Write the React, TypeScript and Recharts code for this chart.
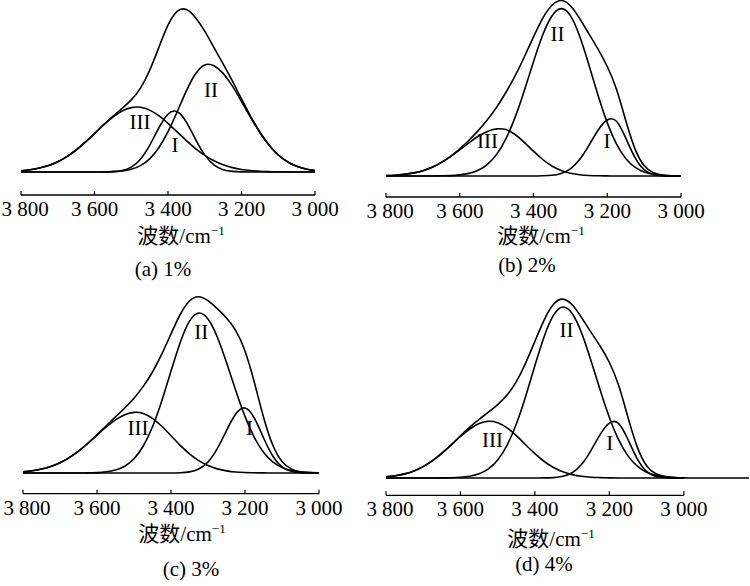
import { LineChart, Line, XAxis, YAxis, ReferenceLine, ReferenceDot } from "recharts";

// wavenumber grid (cm-1), high to low
const wavenumbers = [
  3800, 3775, 3750, 3725, 3700, 3675, 3650, 3625, 3600, 3575, 3550, 3525, 3500, 3475, 3450, 3425, 3400,
  3375, 3350, 3325, 3300, 3275, 3250, 3225, 3200, 3175, 3150, 3125, 3100, 3075, 3050, 3025, 3000,
];
// panel (d) keeps its flat baseline past 3000
const tailWavenumbers = [2975, 2950, 2925, 2900, 2875, 2850, 2825];
const dTotalTail = [0, 0, 0, 0, 0, 0, 0];

const tickValues = [3800, 3600, 3400, 3200, 3000];

// (a) 1%
const aTotal = [0.012, 0.023, 0.04, 0.065, 0.103, 0.154, 0.22, 0.298, 0.384, 0.473, 0.557, 0.636, 0.721, 0.839, 1.016, 1.245, 1.468, 1.606, 1.624, 1.543, 1.408, 1.245, 1.081, 0.911, 0.731, 0.557, 0.4, 0.271, 0.172, 0.103, 0.058, 0.03, 0.015];
const aI = [0, 0, 0, 0, 0, 0, 0, 0, 0, 0.001, 0.004, 0.015, 0.049, 0.128, 0.266, 0.44, 0.578, 0.603, 0.499, 0.327, 0.171, 0.071, 0.023, 0.006, 0.001, 0, 0, 0, 0, 0, 0, 0, 0];
const aII = [0, 0, 0, 0, 0, 0, 0, 0, 0, 0.001, 0.004, 0.011, 0.028, 0.064, 0.131, 0.242, 0.403, 0.602, 0.811, 0.982, 1.071, 1.062, 0.986, 0.861, 0.705, 0.543, 0.393, 0.267, 0.17, 0.102, 0.058, 0.03, 0.015];
const aIII = [0.012, 0.023, 0.04, 0.065, 0.103, 0.154, 0.22, 0.298, 0.384, 0.471, 0.549, 0.61, 0.644, 0.647, 0.619, 0.563, 0.487, 0.401, 0.314, 0.234, 0.166, 0.112, 0.072, 0.044, 0.025, 0.014, 0.007, 0.004, 0.002, 0.001, 0, 0, 0];

// (b) 2%
const bTotal = [0.004, 0.008, 0.017, 0.031, 0.053, 0.087, 0.136, 0.197, 0.272, 0.358, 0.454, 0.562, 0.687, 0.835, 1.001, 1.19, 1.391, 1.577, 1.707, 1.755, 1.703, 1.576, 1.423, 1.268, 1.095, 0.868, 0.557, 0.274, 0.104, 0.032, 0.009, 0.002, 0];
const bI = [0, 0, 0, 0, 0, 0, 0, 0, 0, 0, 0, 0, 0, 0, 0, 0, 0, 0.002, 0.007, 0.026, 0.072, 0.164, 0.304, 0.458, 0.56, 0.547, 0.381, 0.186, 0.064, 0.015, 0.003, 0, 0];
const bII = [0, 0, 0, 0, 0, 0, 0.002, 0.004, 0.011, 0.026, 0.057, 0.116, 0.216, 0.371, 0.586, 0.853, 1.143, 1.41, 1.6, 1.674, 1.604, 1.4, 1.114, 0.808, 0.534, 0.321, 0.176, 0.088, 0.04, 0.017, 0.006, 0.002, 0];
const bIII = [0.004, 0.008, 0.017, 0.031, 0.053, 0.087, 0.134, 0.193, 0.261, 0.332, 0.397, 0.446, 0.471, 0.464, 0.415, 0.337, 0.248, 0.165, 0.1, 0.055, 0.027, 0.012, 0.005, 0.002, 0.001, 0, 0, 0, 0, 0, 0, 0, 0];

// (c) 3%
const cTotal = [0.012, 0.023, 0.04, 0.066, 0.103, 0.154, 0.219, 0.296, 0.382, 0.472, 0.561, 0.65, 0.748, 0.866, 1.01, 1.188, 1.391, 1.585, 1.72, 1.763, 1.723, 1.644, 1.55, 1.424, 1.221, 0.91, 0.56, 0.28, 0.116, 0.041, 0.013, 0.005, 0.001];
const cI = [0, 0, 0, 0, 0, 0, 0, 0, 0, 0, 0, 0, 0, 0, 0, 0, 0, 0.003, 0.011, 0.04, 0.11, 0.243, 0.424, 0.589, 0.65, 0.551, 0.352, 0.17, 0.062, 0.017, 0.003, 0.001, 0];
const cII = [0, 0, 0, 0, 0, 0, 0, 0.001, 0.004, 0.012, 0.03, 0.068, 0.142, 0.27, 0.463, 0.721, 1.019, 1.306, 1.518, 1.6, 1.539, 1.36, 1.105, 0.825, 0.566, 0.357, 0.207, 0.11, 0.054, 0.024, 0.01, 0.004, 0.001];
const cIII = [0.012, 0.023, 0.04, 0.066, 0.103, 0.154, 0.219, 0.295, 0.378, 0.46, 0.531, 0.582, 0.606, 0.596, 0.547, 0.467, 0.372, 0.276, 0.191, 0.123, 0.074, 0.041, 0.021, 0.01, 0.005, 0.002, 0.001, 0, 0, 0, 0, 0, 0];

// (d) 4%
const dTotal = [0.012, 0.023, 0.041, 0.071, 0.114, 0.173, 0.248, 0.332, 0.422, 0.508, 0.586, 0.658, 0.734, 0.829, 0.964, 1.149, 1.368, 1.582, 1.737, 1.789, 1.732, 1.606, 1.461, 1.32, 1.155, 0.925, 0.606, 0.309, 0.123, 0.042, 0.014, 0.004, 0.001];
const dI = [0, 0, 0, 0, 0, 0, 0, 0, 0, 0, 0, 0, 0, 0, 0, 0, 0, 0.001, 0.004, 0.017, 0.053, 0.135, 0.272, 0.434, 0.549, 0.544, 0.385, 0.191, 0.066, 0.016, 0.003, 0, 0];
const dII = [0, 0, 0, 0, 0, 0, 0.001, 0.002, 0.007, 0.018, 0.042, 0.091, 0.181, 0.327, 0.54, 0.816, 1.125, 1.416, 1.628, 1.71, 1.645, 1.454, 1.181, 0.882, 0.605, 0.381, 0.221, 0.118, 0.057, 0.026, 0.011, 0.004, 0.001];
const dIII = [0.012, 0.023, 0.041, 0.071, 0.114, 0.173, 0.247, 0.33, 0.415, 0.49, 0.544, 0.567, 0.553, 0.502, 0.424, 0.333, 0.243, 0.165, 0.105, 0.062, 0.034, 0.017, 0.008, 0.004, 0.001, 0, 0, 0, 0, 0, 0, 0, 0];

// peak names, placed at (wavenumber, value)
const aNotes = [
  { text: "II", w: 3283, v: 0.825 },
  { text: "III", w: 3476, v: 0.505 },
  { text: "I", w: 3381, v: 0.27 },
];
const bNotes = [
  { text: "II", w: 3335, v: 1.42 },
  { text: "III", w: 3525, v: 0.35 },
  { text: "I", w: 3201, v: 0.35 },
];
const cNotes = [
  { text: "II", w: 3318, v: 1.408 },
  { text: "III", w: 3489, v: 0.448 },
  { text: "I", w: 3188, v: 0.448 },
];
const dNotes = [
  { text: "II", w: 3315, v: 1.482 },
  { text: "III", w: 3514, v: 0.382 },
  { text: "I", w: 3199, v: 0.352 },
];

type Row = { w: number; total: number; I: number | null; II: number | null; III: number | null };
type Note = { text: string; w: number; v: number };

const buildRows = (total: number[], I: number[], II: number[], III: number[]): Row[] =>
  wavenumbers.map((w, i) => ({ w, total: total[i], I: I[i], II: II[i], III: III[i] }));

const aRows = buildRows(aTotal, aI, aII, aIII);
const bRows = buildRows(bTotal, bI, bII, bIII);
const cRows = buildRows(cTotal, cI, cII, cIII);
const dRows = [
  ...buildRows(dTotal, dI, dII, dIII),
  ...tailWavenumbers.map((w, i) => ({ w, total: dTotalTail[i], I: null, II: null, III: null })),
];

const SERIF = "'Liberation Serif', 'Times New Roman', 'Noto Sans CJK SC', serif";
const Y_MAX = 1.85;
const PX_PER_UNIT = 100;
const PAD = 30;
const TOP = 20;
const AXIS_H = 40;

const fmt = (v: number) => `${Math.floor(v / 1000)} ${String(v % 1000).padStart(3, "0")}`;

function renderTick(props: any) {
  const { x, y, payload } = props;
  // the first label sits a little right of its tick in the original
  const nudge = payload.value === 3800 ? 4 : 0;
  return (
    <g>
      <line x1={x} x2={x} y1={y} y2={y - 4} stroke="#000" strokeWidth={1.2} />
      <text x={x + nudge} y={y + 21} textAnchor="middle" fontSize={21} fontFamily={SERIF} fill="#000">
        {fmt(payload.value)}
      </text>
    </g>
  );
}

function Panel({
  rows,
  notes,
  lowEnd,
  left,
  width,
  axisY,
  yMin,
}: {
  rows: Row[];
  notes: Note[];
  lowEnd: number;
  left: number;
  width: number;
  axisY: number;
  yMin: number;
}) {
  const plotH = (Y_MAX - yMin) * PX_PER_UNIT;
  return (
    <div style={{ position: "absolute", left: left - PAD, top: axisY - plotH - TOP }}>
      <LineChart
        width={width + 2 * PAD}
        height={TOP + plotH + AXIS_H}
        data={rows}
        margin={{ top: TOP, right: PAD, bottom: 0, left: PAD }}
      >
        <XAxis
          type="number"
          dataKey="w"
          domain={[lowEnd, 3800]}
          reversed
          allowDataOverflow
          ticks={tickValues}
          interval={0}
          tick={renderTick}
          tickLine={false}
          axisLine={false}
          tickSize={0}
          tickMargin={0}
          height={AXIS_H}
        />
        <YAxis hide domain={[yMin, Y_MAX]} allowDataOverflow />
        <ReferenceLine
          segment={[
            { x: 3800, y: yMin },
            { x: 3000, y: yMin },
          ]}
          stroke="#000"
          strokeWidth={1.3}
        />
        {["III", "II", "I", "total"].map((k) => (
          <Line
            key={k}
            dataKey={k}
            type="natural"
            stroke="#000"
            strokeWidth={1.6}
            dot={false}
            activeDot={false}
            isAnimationActive={false}
          />
        ))}
        {notes.map((n) => (
          <ReferenceDot
            key={n.text}
            x={n.w}
            y={n.v}
            r={0}
            shape={(p: any) => (
              <text x={p.cx} y={p.cy + 7} textAnchor="middle" fontSize={21} fontFamily={SERIF} fill="#000">
                {n.text}
              </text>
            )}
          />
        ))}
      </LineChart>
    </div>
  );
}

function Caption({ x, y, title }: { x: number; y: number; title: string }) {
  return (
    <text x={x} y={y} textAnchor="middle" fontSize={21} fontFamily={SERIF} fill="#000">
      {title}
    </text>
  );
}

function AxisTitle({ x, y }: { x: number; y: number }) {
  return (
    <text x={x} y={y} textAnchor="middle" fontSize={21} fontFamily={SERIF} fill="#000">
      波数/cm
      <tspan fontSize={13} dy={-8}>
        −1
      </tspan>
    </text>
  );
}

export default function App() {
  return (
    <div
      style={{
        position: "absolute",
        left: 0,
        top: 0,
        width: 750,
        height: 586,
        background: "#fff",
        overflow: "hidden",
      }}
    >
      <Panel rows={aRows} notes={aNotes} lowEnd={3000} left={21} width={294} axisY={195} yMin={-0.23} />
      <Panel rows={bRows} notes={bNotes} lowEnd={3000} left={386} width={295} axisY={196.5} yMin={-0.21} />
      <Panel rows={cRows} notes={cNotes} lowEnd={3000} left={23} width={296} axisY={494} yMin={-0.207} />
      <Panel rows={dRows} notes={dNotes} lowEnd={2825} left={386} width={363} axisY={495} yMin={-0.173} />
      <svg width={750} height={586} style={{ position: "absolute", left: 0, top: 0, pointerEvents: "none" }}>
        <AxisTitle x={181} y={243} />
        <AxisTitle x={541} y={243} />
        <AxisTitle x={182} y={541} />
        <AxisTitle x={551} y={546} />
        <Caption x={163} y={276} title="(a) 1%" />
        <Caption x={527} y={272} title="(b) 2%" />
        <Caption x={191} y={576} title="(c) 3%" />
        <Caption x={544} y={571} title="(d) 4%" />
      </svg>
    </div>
  );
}
